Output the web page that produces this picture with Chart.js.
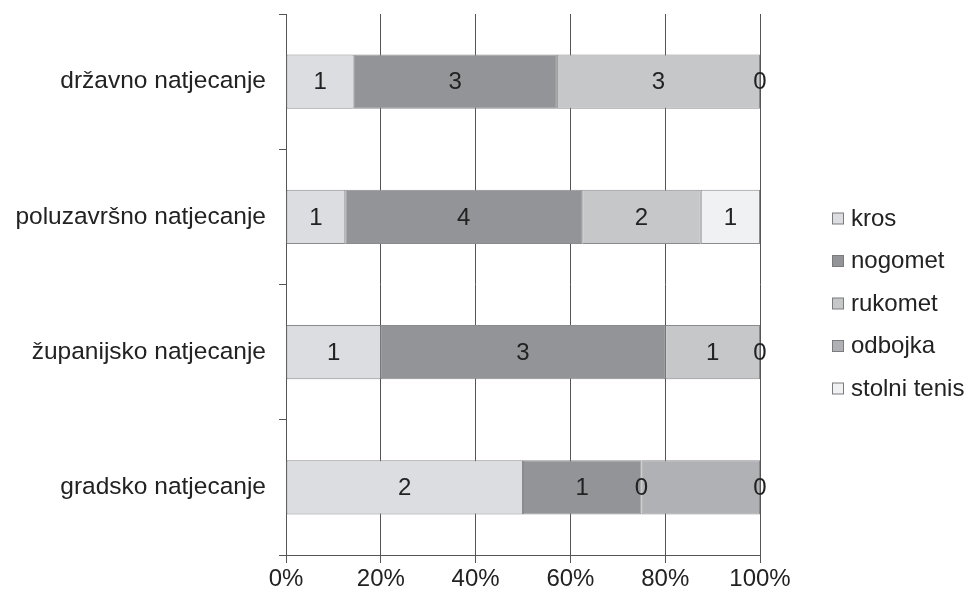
<!DOCTYPE html>
<html>
<head>
<meta charset="utf-8">
<title>Natjecanja po sportovima</title>
<script src="https://cdn.jsdelivr.net/npm/chart.js@4/dist/chart.umd.min.js"></script>
<style>
  html, body { margin: 0; padding: 0; background: #ffffff; }
  #wrap { width: 968px; height: 596px; position: relative; }
</style>
</head>
<body>
<div id="wrap"><canvas id="chart" width="968" height="596"></canvas></div>
<script>
// Competition levels (top to bottom)
const categories = ['državno natjecanje', 'poluzavršno natjecanje', 'županijsko natjecanje', 'gradsko natjecanje'];

// Number of entries per sport at each level
const kros        = [1, 1, 1, 2];
const nogomet     = [3, 4, 3, 1];
const rukomet     = [3, 2, 1, 0];
const odbojka     = [0, 0, 0, 1];
const stolniTenis = [0, 1, 0, 0];

const seriesNames  = ['kros', 'nogomet', 'rukomet', 'odbojka', 'stolni tenis'];
const seriesCounts = [kros, nogomet, rukomet, odbojka, stolniTenis];
const seriesColors = ['#dcdde0', '#939497', '#c6c7c9', '#b0b1b4', '#f0f1f3'];
const showCounts   = [true, true, true, false, true];

const xTicks = [0, 20, 40, 60, 80, 100];

// Row totals, used to turn counts into shares of 100 %
const totals = categories.map((_, i) => seriesCounts.reduce((s, arr) => s + arr[i], 0));

const FONT = '"Liberation Sans", Arial, Helvetica, sans-serif';
const TEXT = '#222222';
const AXIS = '#555555';

const datasets = seriesNames.map((name, k) => ({
  label: name,
  data: seriesCounts[k].map((v, i) => v / totals[i] * 100),
  counts: seriesCounts[k],
  showCounts: showCounts[k],
  backgroundColor: seriesColors[k],
  borderColor: '#8a8b8e',
  borderWidth: 1,
  borderSkipped: false,
  barPercentage: 0.4,
  categoryPercentage: 1.0
}));

// Count labels in the middle of every segment
const countLabels = {
  id: 'countLabels',
  afterDatasetsDraw(chart) {
    const ctx = chart.ctx;
    ctx.save();
    ctx.font = '24px ' + FONT;
    ctx.fillStyle = TEXT;
    ctx.textAlign = 'center';
    ctx.textBaseline = 'middle';
    chart.data.datasets.forEach((ds, k) => {
      if (!ds.showCounts) return;
      chart.getDatasetMeta(k).data.forEach((el, i) => {
        const cx = (el.x + el.base) / 2;
        ctx.fillText(String(ds.counts[i]), cx, el.y + 1);
      });
    });
    ctx.restore();
  }
};

// Legend to the right of the plot
const sideLegend = {
  id: 'sideLegend',
  afterDraw(chart) {
    const ctx = chart.ctx;
    const boxX = 832, box = 11, textX = 851, firstY = 218, step = 42.5;
    ctx.save();
    ctx.font = '24px ' + FONT;
    ctx.textBaseline = 'middle';
    ctx.textAlign = 'left';
    chart.data.datasets.forEach((ds, k) => {
      const cy = firstY + k * step;
      ctx.fillStyle = ds.backgroundColor;
      ctx.fillRect(boxX + 0.5, cy - box / 2 + 0.5, box, box);
      ctx.strokeStyle = '#7a7b7e';
      ctx.lineWidth = 1;
      ctx.strokeRect(boxX + 0.5, cy - box / 2 + 0.5, box, box);
      ctx.fillStyle = TEXT;
      ctx.fillText(ds.label, textX, cy + 1);
    });
    ctx.restore();
  }
};

new Chart(document.getElementById('chart'), {
  type: 'bar',
  data: { labels: categories, datasets },
  plugins: [countLabels, sideLegend],
  options: {
    indexAxis: 'y',
    responsive: false,
    animation: false,
    devicePixelRatio: 1,
    layout: { padding: { top: 14, right: 208, bottom: 0, left: 0 } },
    plugins: {
      legend: { display: false },
      tooltip: { enabled: false }
    },
    scales: {
      x: {
        stacked: true,
        min: 0,
        max: 100,
        afterBuildTicks(scale) { scale.ticks = xTicks.map(v => ({ value: v })); },
        afterFit(scale) { scale.height = 41; },
        grid: { color: AXIS, lineWidth: 1, tickLength: 8, drawOnChartArea: true },
        border: { color: AXIS, width: 1 },
        ticks: {
          font: { family: FONT, size: 24 },
          color: TEXT,
          padding: 2,
          maxRotation: 0,
          callback: v => v + '%'
        }
      },
      y: {
        stacked: true,
        afterFit(scale) {
          scale.width = 286;
          scale.paddingTop = 0;
          scale.paddingBottom = 0;
        },
        grid: { offset: true, color: AXIS, lineWidth: 1, tickLength: 7, drawOnChartArea: false },
        border: { color: AXIS, width: 1 },
        ticks: {
          font: { family: FONT, size: 24.5 },
          color: TEXT,
          padding: 13
        }
      }
    }
  }
});
</script>
</body>
</html>
